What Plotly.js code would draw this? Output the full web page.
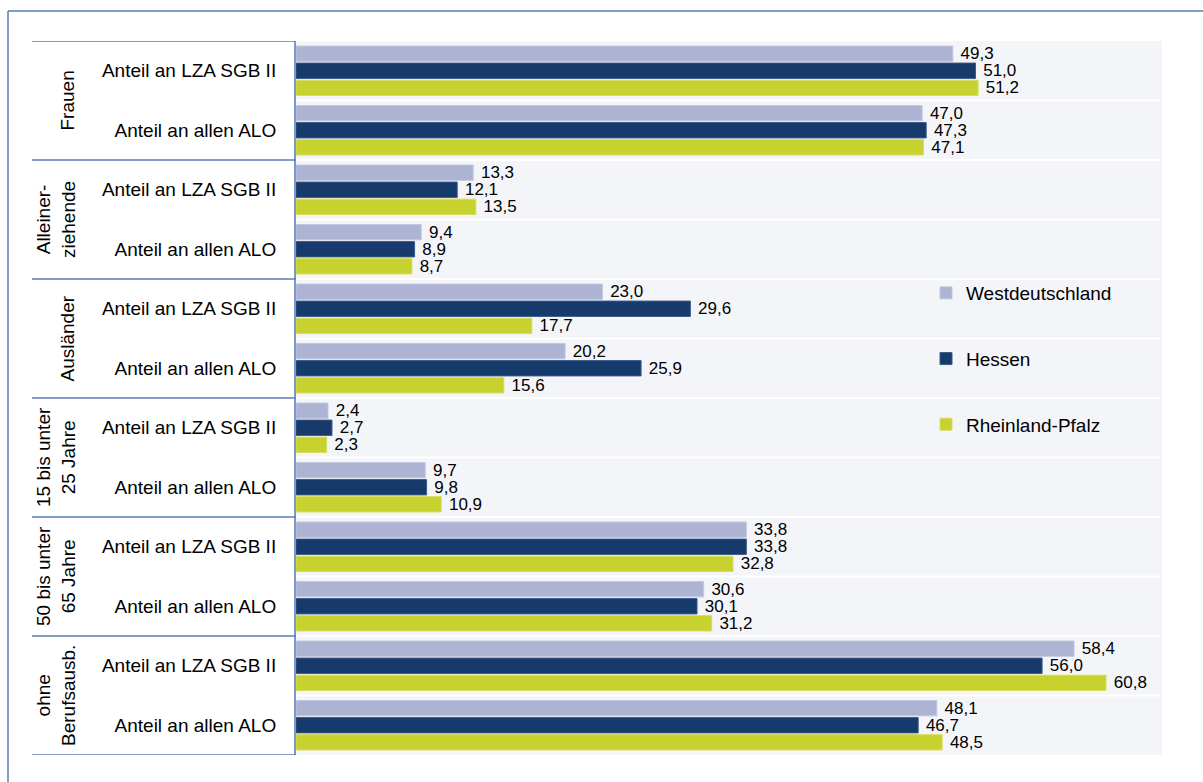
<!DOCTYPE html>
<html><head><meta charset="utf-8">
<script src="https://cdn.plot.ly/plotly-3.0.1.min.js"></script>
<style>html,body{margin:0;padding:0;background:#fff}#chart{width:1203px;height:782px}</style>
</head><body><div id="chart"></div>
<script>
// ---- data ----
const groups = ['Frauen', 'Alleiner-<br>ziehende', 'Ausländer', '15 bis unter<br>25 Jahre', '50 bis unter<br>65 Jahre', 'ohne<br>Berufsausb.'];
const categories = ['Anteil an LZA SGB II', 'Anteil an allen ALO'];
const seriesNames = ['Westdeutschland', 'Hessen', 'Rheinland-Pfalz'];
const westdeutschland = [49.3, 47.0, 13.3, 9.4, 23.0, 20.2, 2.4, 9.7, 33.8, 30.6, 58.4, 48.1];
const hessen          = [51.0, 47.3, 12.1, 8.9, 29.6, 25.9, 2.7, 9.8, 33.8, 30.1, 56.0, 46.7];
const rheinlandPfalz  = [51.2, 47.1, 13.5, 8.7, 17.7, 15.6, 2.3, 10.9, 32.8, 31.2, 60.8, 48.5];

// ---- layout helpers ----
const W = 1203, H = 782, L = 296, R = 41, T = 41, B = 27;
const plotW = W - L - R, plotH = H - T - B;
const px2x = px => (px - L) / plotW;
const py2y = py => (H - B - py) / plotH;
const FONT = 'Liberation Sans, Arial, sans-serif';

const rowLabels = groups.flatMap(() => categories);
const rowPos = rowLabels.map((_, i) => i);
const colors = ['#adb3d3', '#173a6c', '#c8d22e'];
const lineCols = ['#c3c8e0', '#3d5a8a', '#d6de60'];
const seriesVals = [westdeutschland, hessen, rheinlandPfalz];

const traces = seriesVals.map((vals, k) => ({
  type: 'bar', orientation: 'h',
  name: seriesNames[k], legendgroup: 'g' + k,
  x: vals, y: rowPos,
  marker: {color: colors[k], line: {color: lineCols[k], width: 1}},
  texttemplate: '\u00a0%{x:.1f}', textposition: 'outside',
  constraintext: 'none', cliponaxis: false,
  textfont: {family: FONT, size: 17, color: '#000'},
  hoverinfo: 'x+y'
}));

const shapes = [];
// outer frame (top + left)
shapes.push({type: 'line', xref: 'paper', yref: 'paper', x0: px2x(8), x1: px2x(1203), y0: py2y(11), y1: py2y(11), line: {color: '#5b7db5', width: 1.5}});
shapes.push({type: 'line', xref: 'paper', yref: 'paper', x0: px2x(8), x1: px2x(8), y0: py2y(11), y1: py2y(782), line: {color: '#5b7db5', width: 1.5}});
// white row separators
for (let i = 1; i < rowLabels.length; i++) {
  shapes.push({type: 'line', xref: 'paper', yref: 'y', x0: 0, x1: 0.998, y0: i - 0.5, y1: i - 0.5, layer: 'below', line: {color: '#ffffff', width: 2}});
}
// group box lines
for (let g = 0; g <= groups.length; g++) {
  const yy = g * categories.length - 0.5;
  shapes.push({type: 'line', xref: 'paper', yref: 'y', x0: px2x(32), x1: 0, y0: yy, y1: yy, line: {color: '#5b7db5', width: 1.5}});
}

const annotations = groups.map((g, i) => {
  const n = g.split('<br>').length;
  return {
    xref: 'paper', yref: 'y', x: px2x(67 - (n - 1) * 11.5), y: i * categories.length + 0.5,
    text: g, textangle: -90, showarrow: false, xanchor: 'center', yanchor: 'middle',
    font: {family: FONT, size: 19, color: '#000'}
  };
});

const layout = {
  width: W, height: H,
  margin: {l: L, r: R, t: T, b: B, pad: 0},
  paper_bgcolor: '#ffffff', plot_bgcolor: '#f4f5f9',
  separators: ',.',
  barmode: 'group', bargap: 0.14, bargroupgap: 0.1,
  font: {family: FONT, size: 19, color: '#000'},
  xaxis: {range: [0, 65], showgrid: false, zeroline: false, showticklabels: false, ticks: '', fixedrange: true},
  yaxis: {range: [rowLabels.length - 0.5, -0.5], tickmode: 'array', tickvals: rowPos, ticktext: rowLabels,
          showgrid: false, zeroline: false, ticks: '', ticklabelstandoff: 14,
          showline: true, linecolor: '#7b98c6', linewidth: 2, fixedrange: true,
          tickfont: {family: FONT, size: 19, color: '#000'}},
  showlegend: true,
  legend: {x: px2x(926), y: py2y(274), xanchor: 'left', yanchor: 'top', bgcolor: 'rgba(0,0,0,0)',
           tracegroupgap: 38, traceorder: 'grouped', font: {family: FONT, size: 19, color: '#000'}},
  shapes: shapes, annotations: annotations
};

Plotly.newPlot('chart', traces, layout, {displayModeBar: false, staticPlot: true});
</script></body></html>
